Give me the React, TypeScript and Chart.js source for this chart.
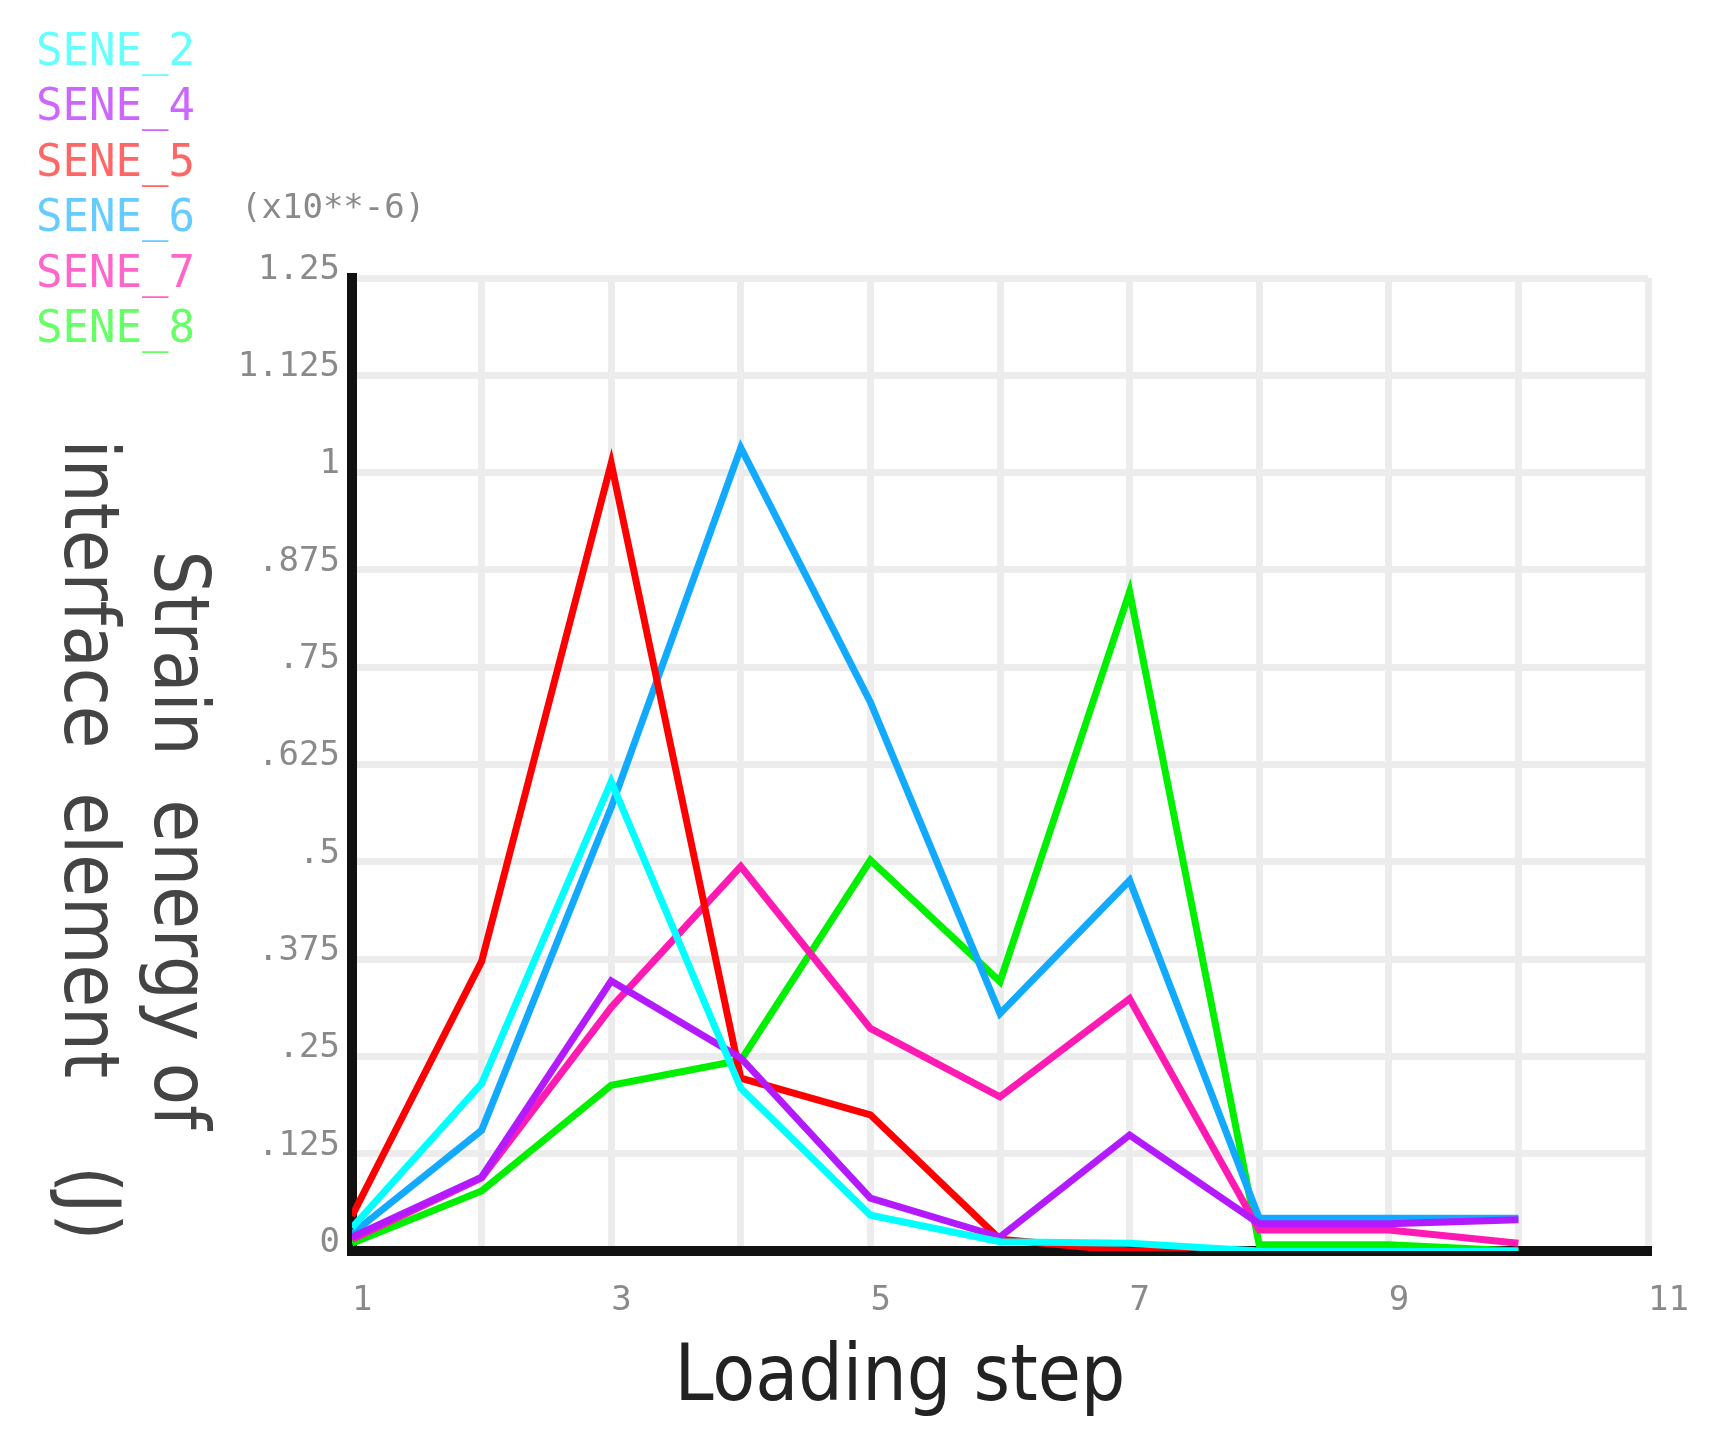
import React, { useEffect, useRef } from 'react';
import { Chart, registerables } from 'chart.js';

Chart.register(...registerables);

// loading steps (x) and strain energy values (x10**-6 J)
const steps = [1, 2, 3, 4, 5, 6, 7, 8, 9, 10];
const seriesNames = ['SENE_2', 'SENE_4', 'SENE_5', 'SENE_6', 'SENE_7', 'SENE_8'];
const sene2 = [0.03, 0.215, 0.603, 0.209, 0.046, 0.012, 0.01, 0.0, 0.0, 0.0];
const sene4 = [0.018, 0.095, 0.347, 0.248, 0.068, 0.018, 0.149, 0.035, 0.035, 0.04];
const sene5 = [0.045, 0.372, 1.012, 0.222, 0.175, 0.015, 0.0, 0.0, 0.0, 0.0];
const sene6 = [0.022, 0.155, 0.57, 1.032, 0.705, 0.305, 0.476, 0.042, 0.042, 0.042];
const sene7 = [0.015, 0.094, 0.313, 0.494, 0.286, 0.198, 0.324, 0.027, 0.027, 0.01];
const sene8 = [0.01, 0.077, 0.213, 0.245, 0.502, 0.346, 0.847, 0.008, 0.008, 0.0];
const seriesValues = [sene2, sene4, sene5, sene6, sene7, sene8];

const lineColors = ['#00ffff', '#b31aff', '#ff0000', '#11aaff', '#ff1ab3', '#00f000'];
const legendColors = ['#66ffff', '#cc66ff', '#ff6666', '#66ccff', '#ff66cc', '#66ff66'];

const xTickLabels = ['1', '', '3', '', '5', '', '7', '', '9', '', '11'];
const yTickLabels = ['0', '.125', '.25', '.375', '.5', '.625', '.75', '.875', '1', '1.125', '1.25'];
const xTitle = 'Loading step';
const yTitleLines = ['Strain  energy of', 'interface  element    (J)'];
const scaleNote = '(x10**-6)';

const MONO = '"DejaVu Sans Mono", monospace';
const SANS = '"DejaVu Sans Condensed", "DejaVu Sans", sans-serif';
const GRID = '#ececec';

const decor = {
  id: 'decor',
  afterDraw(chart: any) {
    const ctx = chart.ctx;
    ctx.save();

    // legend: coloured names only
    ctx.font = `44px ${MONO}`;
    ctx.textAlign = 'left';
    ctx.textBaseline = 'alphabetic';
    seriesNames.forEach((name, i) => {
      ctx.fillStyle = legendColors[i];
      ctx.fillText(name, 36, 65 + i * 55.4);
    });

    // exponent note above the y ticks
    ctx.font = `34px ${MONO}`;
    ctx.fillStyle = '#8a8a8a';
    ctx.textBaseline = 'middle';
    ctx.fillText(scaleNote, 241, 209);

    // x title
    ctx.font = `78px ${SANS}`;
    ctx.fillStyle = '#222';
    ctx.textAlign = 'center';
    ctx.textBaseline = 'alphabetic';
    ctx.fillText(xTitle, 900, 1400);

    // y title, turned clockwise
    ctx.font = `77px ${SANS}`;
    ctx.fillStyle = '#444';
    const baseX = [155, 65];
    yTitleLines.forEach((line, i) => {
      ctx.save();
      ctx.translate(baseX[i], 840);
      ctx.rotate(Math.PI / 2);
      ctx.fillText(line, 0, 0);
      ctx.restore();
    });

    ctx.restore();
  },
};

const App = () => {
  const canvasRef = useRef<HTMLCanvasElement>(null);

  useEffect(() => {
    const ctx = canvasRef.current!.getContext('2d')!;
    const tickFont = { family: MONO, size: 34 };
    const chart = new Chart(ctx, {
      type: 'line',
      data: {
        datasets: seriesNames.map((name, i) => ({
          label: name,
          data: steps.map((s, j) => ({ x: s, y: seriesValues[i][j] })),
          borderColor: lineColors[i],
          backgroundColor: lineColors[i],
          borderWidth: 7,
          pointRadius: 0,
          tension: 0,
          fill: false,
        })),
      },
      options: {
        animation: false,
        responsive: false,
        devicePixelRatio: 1,
        layout: { padding: { left: 0, top: 278, right: 73, bottom: 0 } },
        plugins: { legend: { display: false }, tooltip: { enabled: false } },
        scales: {
          x: {
            type: 'linear',
            min: 1,
            max: 11,
            afterFit: (s: any) => { s.height = 189; },
            grid: { color: GRID, lineWidth: 7, drawTicks: false },
            border: { color: '#111', width: 10 },
            ticks: {
              stepSize: 1,
              autoSkip: false,
              maxRotation: 0,
              align: 'start',
              padding: 30,
              color: '#8a8a8a',
              font: tickFont,
              callback: (_v: any, i: number) => xTickLabels[i],
            },
          },
          y: {
            min: 0,
            max: 1.25,
            afterFit: (s: any) => { s.width = 352; },
            grid: { color: GRID, lineWidth: 7, drawTicks: false },
            border: { color: '#111', width: 10 },
            ticks: {
              stepSize: 0.125,
              autoSkip: false,
              padding: 12,
              labelOffset: -8,
              color: '#8a8a8a',
              font: tickFont,
              callback: (_v: any, i: number) => yTickLabels[i],
            },
          },
        },
      },
      plugins: [decor],
    });

    return () => chart.destroy();
  }, []);

  return (
    <div style={{ position: 'absolute', left: 0, top: 0, width: 1721, height: 1440 }}>
      <canvas ref={canvasRef} width={1721} height={1440}></canvas>
    </div>
  );
};

export default App;
